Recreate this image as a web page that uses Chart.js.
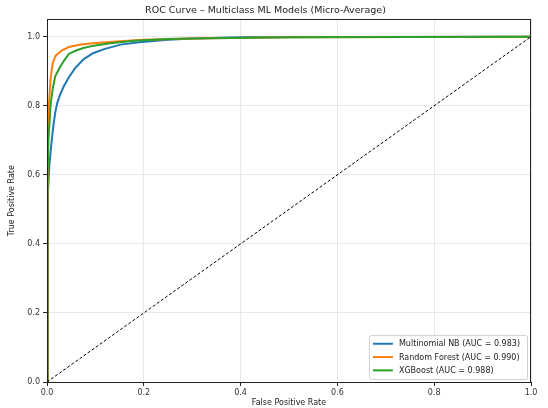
<!DOCTYPE html>
<html>
<head>
<meta charset="utf-8">
<script src="https://cdn.jsdelivr.net/npm/chart.js@4/dist/chart.umd.min.js"></script>
<style>
  html, body { margin: 0; padding: 0; background: #fff; }
  #wrap { width: 548px; height: 408px; }
</style>
</head>
<body>
<div id="wrap"><canvas id="rocChart" width="548" height="408"></canvas></div>
<script>
// values
const modelNames = ['Multinomial NB', 'Random Forest', 'XGBoost'];
const aucScores = [0.983, 0.990, 0.988];
const modelColors = ['#1f77b4', '#ff7f0e', '#2ca02c'];

const nbFpr = [0, 0.002, 0.005, 0.009, 0.013, 0.017, 0.021, 0.027, 0.035, 0.045, 0.058, 0.076, 0.095, 0.118, 0.152, 0.190, 0.250, 0.300, 0.400, 0.600, 1.0];
const nbTpr = [0, 0.550, 0.630, 0.690, 0.740, 0.780, 0.807, 0.832, 0.857, 0.882, 0.909, 0.935, 0.952, 0.964, 0.977, 0.984, 0.991, 0.995, 0.998, 0.999, 1.0];

const rfFpr = [0, 0.001, 0.002, 0.004, 0.0075, 0.012, 0.018, 0.030, 0.045, 0.070, 0.100, 0.150, 0.200, 0.300, 0.500, 1.0];
const rfTpr = [0, 0.600, 0.700, 0.805, 0.880, 0.925, 0.945, 0.960, 0.970, 0.977, 0.982, 0.987, 0.991, 0.995, 0.998, 1.0];

const xgbFpr = [0, 0.001, 0.003, 0.0075, 0.012, 0.017, 0.026, 0.035, 0.045, 0.060, 0.075, 0.097, 0.130, 0.180, 0.250, 0.300, 0.500, 1.0];
const xgbTpr = [0, 0.600, 0.700, 0.805, 0.850, 0.885, 0.910, 0.930, 0.950, 0.960, 0.967, 0.974, 0.981, 0.988, 0.993, 0.995, 0.998, 1.0];

const chanceLine = [0, 1];
const tickValues = [0, 0.2, 0.4, 0.6, 0.8, 1.0];

const curves = [[nbFpr, nbTpr], [rfFpr, rfTpr], [xgbFpr, xgbTpr]];
const toPoints = (xs, ys) => xs.map((x, i) => ({ x: x, y: ys[i] }));

const datasets = curves.map((c, i) => ({
  label: modelNames[i] + ' (AUC = ' + aucScores[i].toFixed(3) + ')',
  data: toPoints(c[0], c[1]),
  borderColor: modelColors[i],
  backgroundColor: modelColors[i],
  borderWidth: 2,
  pointRadius: 0,
  showLine: true,
  order: 3 - i
}));
datasets.push({
  label: 'chance',
  data: toPoints(chanceLine, chanceLine),
  borderColor: '#000',
  borderWidth: 1,
  borderDash: [3, 2],
  pointRadius: 0,
  showLine: true,
  order: 0
});

const FONT = 'DejaVu Sans';

// frame around plot + in-plot legend (matplotlib style)
const framePlugin = {
  id: 'frame',
  afterDatasetsDraw(chart) {
    const a = chart.chartArea, ctx = chart.ctx;
    ctx.save();
    ctx.strokeStyle = '#222';
    ctx.lineWidth = 1;
    ctx.strokeRect(Math.round(a.left) + 0.5, Math.round(a.top) + 0.5,
      Math.round(a.right - a.left) - 1, Math.round(a.bottom - a.top));

    // legend
    ctx.font = '8px "' + FONT + '"';
    const items = chart.data.datasets.filter(d => d.label !== 'chance');
    const textW = Math.max(...items.map(d => ctx.measureText(d.label).width));
    const rowH = 13.3;
    const boxW = 6 + 20 + 6 + textW + 5;
    const boxH = items.length * rowH + 4;
    const bx = a.right - 4 - boxW, by = a.bottom - 3 - boxH;
    ctx.fillStyle = 'rgba(255,255,255,0.8)';
    ctx.strokeStyle = '#cfcfcf';
    ctx.beginPath();
    ctx.roundRect(bx + 0.5, by + 0.5, boxW, boxH, 2);
    ctx.fill();
    ctx.stroke();
    items.forEach((d, i) => {
      const y = by + 2 + rowH * (i + 0.5);
      ctx.strokeStyle = d.borderColor;
      ctx.lineWidth = 2;
      ctx.beginPath();
      ctx.moveTo(bx + 4, y);
      ctx.lineTo(bx + 24, y);
      ctx.stroke();
      ctx.fillStyle = '#222';
      ctx.textBaseline = 'middle';
      ctx.fillText(d.label, bx + 30, y + 0.5);
    });
    ctx.restore();
  }
};

const ctx = document.getElementById('rocChart').getContext('2d');
new Chart(ctx, {
  type: 'scatter',
  data: { datasets: datasets },
  plugins: [framePlugin],
  options: {
    responsive: false,
    animation: false,
    layout: { padding: { left: 0, right: 17, top: 0, bottom: 0 } },
    plugins: {
      legend: { display: false },
      tooltip: { enabled: false },
      title: {
        display: true,
        text: 'ROC Curve – Multiclass ML Models (Micro-Average)',
        color: '#222',
        font: { family: FONT, size: 9.5, weight: 'normal' },
        padding: { top: 5, bottom: 3 }
      }
    },
    scales: {
      x: {
        type: 'linear',
        min: 0,
        max: 1,
        afterBuildTicks: s => { s.ticks = tickValues.map(v => ({ value: v })); },
        afterFit: s => { s.height = 26; },
        ticks: {
          color: '#333',
          padding: 2,
          maxRotation: 0,
          font: { family: FONT, size: 8 },
          callback: v => v.toFixed(1)
        },
        grid: { color: '#e8e8e8', tickColor: '#222', tickLength: 4 },
        border: { display: false },
        title: {
          display: true,
          text: 'False Positive Rate',
          color: '#222',
          font: { family: FONT, size: 8 },
          padding: { top: 0, bottom: 0 }
        }
      },
      y: {
        type: 'linear',
        min: 0,
        max: 1.05,
        afterBuildTicks: s => { s.ticks = tickValues.map(v => ({ value: v })); },
        afterFit: s => { s.width = 47; },
        ticks: {
          color: '#333',
          padding: 3,
          font: { family: FONT, size: 8 },
          callback: v => v.toFixed(1)
        },
        grid: { color: '#e8e8e8', tickColor: '#222', tickLength: 4 },
        border: { display: false },
        title: {
          display: true,
          text: 'True Positive Rate',
          color: '#222',
          font: { family: FONT, size: 8 },
          padding: { top: 7, bottom: 0 }
        }
      }
    }
  }
});
</script>
</body>
</html>
